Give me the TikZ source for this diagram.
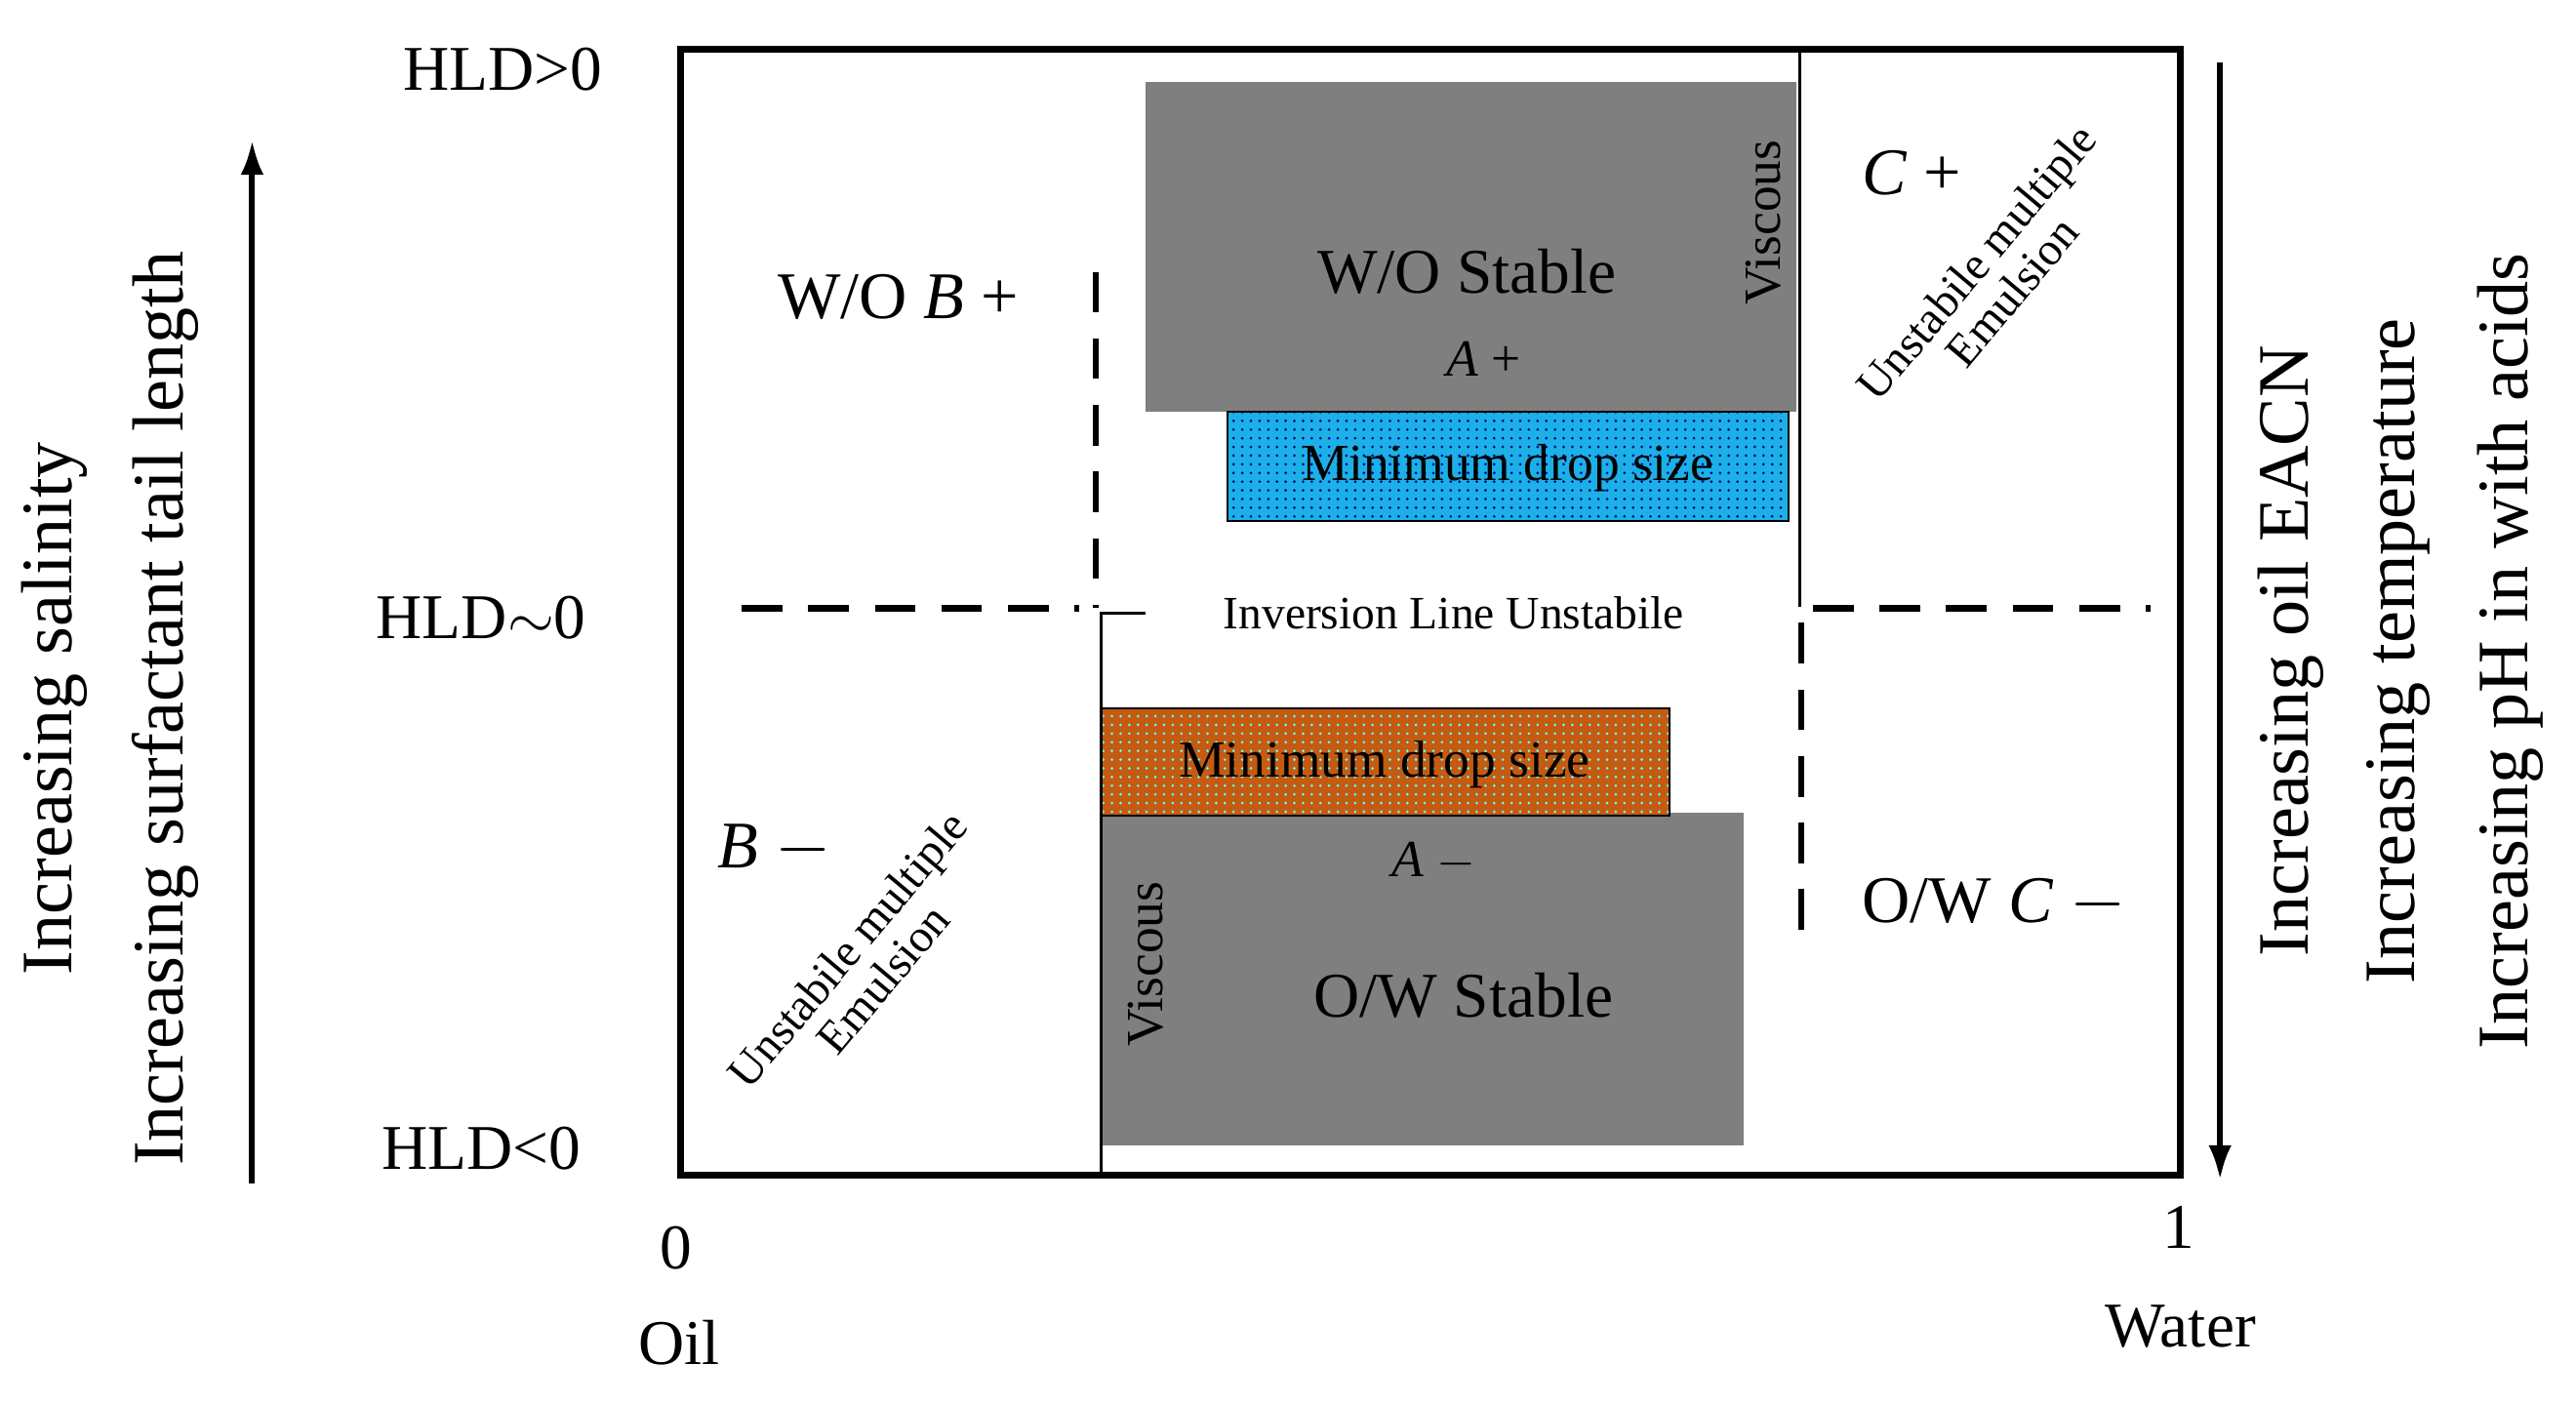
\documentclass[tikz,border=0pt]{standalone}
\usepackage{fontspec}
\setmainfont{Liberation Serif}
\usetikzlibrary{patterns,arrows.meta}
\definecolor{blu}{HTML}{1CB0E6}
\definecolor{ora}{HTML}{C55A11}
\definecolor{gr}{HTML}{7F7F7F}
\begin{document}
\begin{tikzpicture}[x=0.02cm,y=-0.02cm,
  f/.style={font=\fontsize{#1}{#1}\selectfont},
  dsh/.style={line width=2.2pt,dash pattern=on 14pt off 9pt},
  box/.style={draw=black,line width=0.6pt}]
\useasboundingbox (0,0) rectangle (1563,851);
% gray rects
\fill[gr] (695,50) rectangle (1090,250);
\fill[gr] (668,493) rectangle (1058,695);
\fill[blu] (745,250) rectangle (1085,316);
\fill[pattern=dots,pattern color=blue!60!black] (745,250) rectangle (1085,316);
\draw[box] (745,250) rectangle (1085,316);
\fill[ora] (668,430) rectangle (1013,495);
\fill[pattern=dots,pattern color=cyan!60] (668,430) rectangle (1013,495);
\draw[box] (668,430) rectangle (1013,495);
% main box
\draw[line width=2.4pt] (413,30) rectangle (1323,713);
% lines
\draw[line width=1pt] (1092,30) -- (1092,368);
\draw[dsh] (1093,378) -- (1093,565);
\draw[dsh] (450,369) -- (655,369);
\draw[dsh] (1100,369) -- (1305,369);
\draw[dsh] (665,165) -- (665,369);
\draw[line width=1pt] (695,372) -- (668,372) -- (668,713);
% texts
\node[f=22] (wos) at (890,165) {W/O Stable};
\node[f=22] (ows) at (888,604) {O/W Stable};
\node[f=18,rotate=90] (v1) at (1070,135) {Viscous};
\node[f=18,rotate=90] (v2) at (695,585) {Viscous};
\node[f=18] (ap) at (900,218) {\textit{A} +};
\node[f=18] (am) at (870,523) {\textit{A} $-$};
\node[f=18] (m1) at (915,284) {Minimum drop size};
\node[f=18] (m2) at (840,464) {Minimum drop size};
\node[f=16,fill=white,inner sep=1pt] (inv) at (882,372) {Inversion Line Unstabile};
\node[f=23] (bp) at (545,180) {W/O \textit{B} +};
\node[f=23] (bm) at (470,515) {\textit{B} $-$};
\node[f=23] (cp) at (1160,105) {\textit{C} +};
\node[f=23] (cm) at (1210,548) {O/W \textit{C} $-$};
\node[f=16,rotate=50,align=center] (u1) at (525,585) {Unstabile multiple\\Emulsion};
\node[f=16,rotate=50,align=center] (u2) at (1210,168) {Unstabile multiple\\Emulsion};
\node[f=22] (h1) at (305,42) {HLD>0};
\node[f=22] (h2) at (292,375) {HLD$\sim$0};
\node[f=22] (h3) at (292,697) {HLD<0};
\node[f=22] (z) at (410,757) {0};
\node[f=22] (o) at (412,815) {Oil};
\node[f=22] (one) at (1322,745) {1};
\node[f=22] (w) at (1323,805) {Water};
% arrows
\coordinate (la1) at (153,718); \coordinate (la2) at (153,85);
\draw[line width=2pt,-{Latex[length=12pt,width=8pt]}] (la1) -- (la2);
\coordinate (ra1) at (1347,38); \coordinate (ra2) at (1347,716);
\draw[line width=2pt,-{Latex[length=12pt,width=8pt]}] (ra1) -- (ra2);
\node[f=25,rotate=90] (t1) at (33,430) {Increasing salinity};
\node[f=25,rotate=90] (t2) at (100,430) {Increasing surfactant tail length};
\node[f=25,rotate=90] (t3) at (1390,395) {Increasing oil EACN};
\node[f=25,rotate=90] (t4) at (1455,395) {Increasing temperature};
\node[f=25,rotate=90] (t5) at (1523,395) {Increasing pH in with acids};
\end{tikzpicture}
\end{document}
